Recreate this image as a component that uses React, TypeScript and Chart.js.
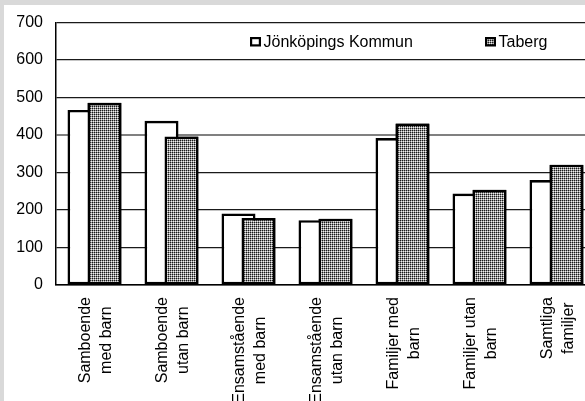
import { useEffect, useRef } from "react";
import { Chart, registerables } from "chart.js";

Chart.register(...registerables);

const categories: string[][] = [
  ["Samboende", "med barn"],
  ["Samboende", "utan barn"],
  ["Ensamstående", "med barn"],
  ["Ensamstående", "utan barn"],
  ["Familjer med", "barn"],
  ["Familjer utan", "barn"],
  ["Samtliga", "familjer"],
];
const seriesNames = ["Jönköpings Kommun", "Taberg"];
const jonkopingValues = [467, 438, 191, 173, 392, 244, 280];
const tabergValues = [486, 396, 179, 177, 431, 254, 321];
const yMin = 0;
const yMax = 700;
const yStep = 100;

const FONT_FAMILY = "'Liberation Sans', Arial, sans-serif";
const FONT = `16px ${FONT_FAMILY}`;

function makePattern(): CanvasPattern | string {
  const c = document.createElement("canvas");
  c.width = 2;
  c.height = 2;
  const g = c.getContext("2d");
  if (!g) return "#8a8a8a";
  g.fillStyle = "#1a1a1a";
  g.fillRect(0, 0, 1, 1);
  g.fillStyle = "#959595";
  g.fillRect(1, 0, 1, 1);
  g.fillRect(0, 1, 1, 1);
  g.fillStyle = "#f0f0f0";
  g.fillRect(1, 1, 1, 1);
  const p = g.createPattern(c, "repeat");
  return p || "#8a8a8a";
}

export default function App() {
  const ref = useRef<HTMLCanvasElement | null>(null);

  useEffect(() => {
    const canvas = ref.current;
    if (!canvas) return;
    const pattern = makePattern();

    const topBarsPlugin = {
      id: "topBars",
      afterDatasetsDraw(chart: any) {
        const meta = chart.getDatasetMeta(1);
        if (meta && meta.controller) meta.controller.draw();
      },
    };

    const labelsPlugin = {
      id: "catLabels",
      afterDraw(chart: any) {
        const ctx = chart.ctx;
        const xs = chart.scales.x;
        const labels = chart.data.labels as string[][];
        ctx.save();
        ctx.font = FONT;
        ctx.fillStyle = "#000";
        ctx.textAlign = "center";
        ctx.textBaseline = "alphabetic";
        labels.forEach((lines, i) => {
          const cx = xs.getPixelForValue(i);
          const longest = Math.max(...lines.map((l) => ctx.measureText(l).width));
          const cy = chart.chartArea.bottom + 12 + longest / 2;
          ctx.save();
          ctx.translate(cx, cy);
          ctx.rotate(-Math.PI / 2);
          lines.forEach((line, j) => {
            ctx.fillText(line, 0, 6 + (j - (lines.length - 1) / 2) * 20.5);
          });
          ctx.restore();
        });
        ctx.restore();
      },
    };

    const legendPlugin = {
      id: "customLegend",
      afterDraw(chart: any) {
        const ctx = chart.ctx;
        const left = chart.chartArea.left;
        const items = [
          { x: left + 194, text: chart.data.datasets[0].label, fill: chart.data.datasets[0].backgroundColor },
          { x: left + 429, text: chart.data.datasets[1].label, fill: chart.data.datasets[1].backgroundColor },
        ];
        ctx.save();
        ctx.font = FONT;
        ctx.textAlign = "left";
        ctx.textBaseline = "alphabetic";
        items.forEach((it) => {
          ctx.fillStyle = "#000";
          ctx.fillRect(it.x, 37, 11, 9.5);
          ctx.fillStyle = it.fill;
          ctx.fillRect(it.x + 2.2, 39.2, 6.6, 5.1);
          ctx.fillStyle = "#000";
          ctx.fillText(it.text, it.x + 13.5, 47);
        });
        ctx.restore();
      },
    };

    const chart = new Chart(canvas, {
      type: "bar",
      data: {
        labels: categories,
        datasets: [
          {
            label: seriesNames[0],
            data: jonkopingValues,
            backgroundColor: "#ffffff",
            borderColor: "#000000",
            borderWidth: 2.6,
            borderSkipped: false,
            categoryPercentage: 40 / 77,
            barPercentage: 1.7,
          },
          {
            label: seriesNames[1],
            data: tabergValues,
            backgroundColor: pattern as any,
            borderColor: "#000000",
            borderWidth: 2.6,
            borderSkipped: false,
            categoryPercentage: 40 / 77,
            barPercentage: 1.7,
          },
        ],
      },
      options: {
        responsive: false,
        animation: false,
        devicePixelRatio: window.devicePixelRatio || 1,
        layout: { padding: { left: 0, top: 20, right: 5, bottom: 116 } },
        plugins: {
          legend: { display: false },
          tooltip: { enabled: false },
          title: { display: false },
        },
        scales: {
          x: {
            type: "category",
            grid: { display: false, drawTicks: false },
            border: { display: true, color: "#000", width: 1.5 },
            ticks: { display: false },
          },
          y: {
            min: yMin,
            max: yMax,
            afterFit(scale: any) {
              scale.width = 56;
            },
            ticks: {
              stepSize: yStep,
              padding: 13,
              color: "#000",
              font: { family: FONT_FAMILY, size: 16 },
            },
            grid: {
              drawTicks: false,
              color: (c: any) => (c.tick && c.tick.value === 400 ? "#808080" : "#1a1a1a"),
              lineWidth: (c: any) => (c.tick && c.tick.value === 400 ? 2 : 1.2),
            },
            border: { display: true, color: "#000", width: 1.5 },
          },
        },
      },
      plugins: [topBarsPlugin, labelsPlugin, legendPlugin],
    } as any);

    return () => chart.destroy();
  }, []);

  return (
    <div
      style={{
        position: "absolute",
        left: 0,
        top: 0,
        width: 585,
        height: 401,
        overflow: "hidden",
        background: "#d9d9d9",
      }}
    >
      <div
        style={{
          position: "absolute",
          left: 4,
          top: 5,
          right: 0,
          bottom: 0,
          background: "#ffffff",
        }}
      />
      <canvas
        ref={ref}
        width={600}
        height={401}
        style={{ position: "absolute", left: 0, top: 0, width: 600, height: 401 }}
      />
    </div>
  );
}
